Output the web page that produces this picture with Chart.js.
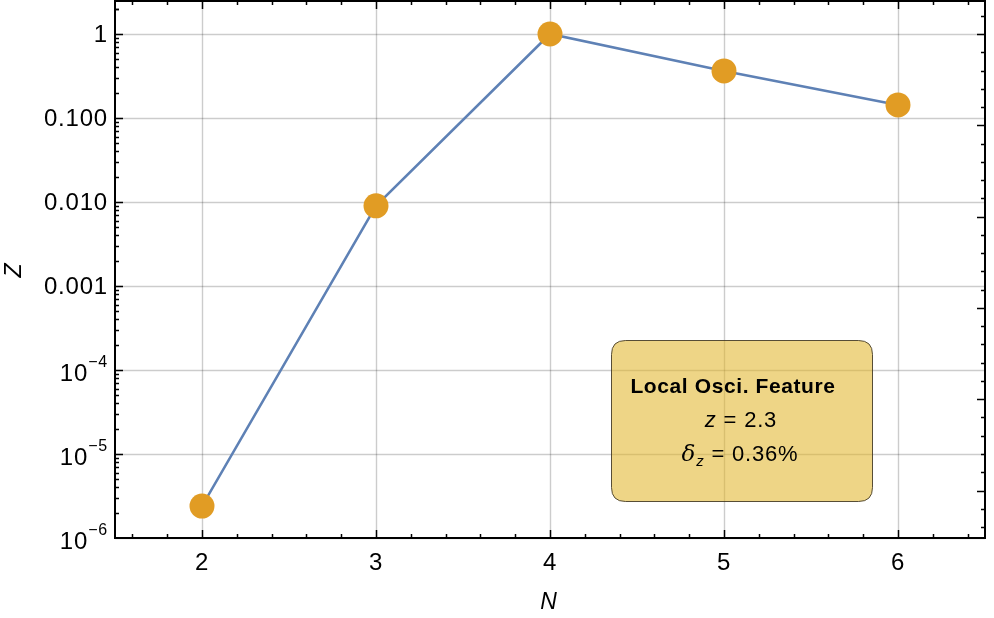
<!DOCTYPE html>
<html>
<head>
<meta charset="utf-8">
<script src="https://cdn.jsdelivr.net/npm/chart.js@4/dist/chart.umd.min.js"></script>
<style>
  html, body { margin: 0; padding: 0; background: #fff; }
  #wrap { width: 994px; height: 618px; position: relative; }
</style>
</head>
<body>
<div id="wrap"><canvas id="mycanvas"></canvas></div>
<script>
// data
var nValues = [2, 3, 4, 5, 6];
var zValues = [2.4e-6, 0.009, 1.0, 0.363, 0.143];

// axis ticks
var xTicks = [2, 3, 4, 5, 6];
var yTicks = [1e-6, 1e-5, 1e-4, 0.001, 0.01, 0.1, 1];
var yTickLabels = [['10', '\u22126'], ['10', '\u22125'], ['10', '\u22124'], '0.001', '0.010', '0.100', '1'];

// annotation text
var noteTitle = 'Local Osci. Feature';
var noteZ = '2.3';
var noteDelta = '0.36%';

var FONT = '"Liberation Sans", Arial, sans-serif';

var points = [];
for (var i = 0; i < nValues.length; i++) {
	points.push({ x: nValues[i], y: zValues[i] });
}

function roundRect(ctx, x, y, w, h, r) {
	ctx.beginPath();
	ctx.moveTo(x + r, y);
	ctx.lineTo(x + w - r, y);
	ctx.quadraticCurveTo(x + w, y, x + w, y + r);
	ctx.lineTo(x + w, y + h - r);
	ctx.quadraticCurveTo(x + w, y + h, x + w - r, y + h);
	ctx.lineTo(x + r, y + h);
	ctx.quadraticCurveTo(x, y + h, x, y + h - r);
	ctx.lineTo(x, y + r);
	ctx.quadraticCurveTo(x, y, x + r, y);
	ctx.closePath();
}

// draws text made of [text, font] pieces, centred on cx
function drawPieces(ctx, pieces, cx, y) {
	var total = 0;
	pieces.forEach(function(p){ ctx.font = p.font; total += ctx.measureText(p.t).width; });
	var x = cx - total / 2;
	pieces.forEach(function(p){
		ctx.font = p.font;
		ctx.fillText(p.t, x, y + (p.dy || 0));
		x += ctx.measureText(p.t).width;
	});
}

var framePlugin = {
	id: 'frame',
	beforeDatasetsDraw: function(chart) {
		var ctx = chart.ctx, a = chart.chartArea;
		var xs = chart.scales.x, ys = chart.scales.y;
		ctx.save();
		ctx.strokeStyle = 'rgba(0,0,0,0.2)';
		ctx.lineWidth = 1.4;
		xTicks.forEach(function(v){
			var px = Math.round(xs.getPixelForValue(v)) + 0.5;
			ctx.beginPath(); ctx.moveTo(px, a.top); ctx.lineTo(px, a.bottom); ctx.stroke();
		});
		yTicks.forEach(function(v){
			var py = Math.round(ys.getPixelForValue(v)) + 0.5;
			ctx.beginPath(); ctx.moveTo(a.left, py); ctx.lineTo(a.right, py); ctx.stroke();
		});

		// annotation box
		roundRect(ctx, 611.5, 340.5, 261, 161, 14);
		ctx.fillStyle = 'rgba(225,181,42,0.57)';
		ctx.fill();
		ctx.strokeStyle = 'rgba(60,50,30,0.85)';
		ctx.lineWidth = 1;
		ctx.stroke();

		ctx.fillStyle = '#000';
		ctx.textBaseline = 'middle';
		ctx.textAlign = 'left';
		ctx.letterSpacing = '0.6px';
		drawPieces(ctx, [{ t: noteTitle, font: 'bold 21px ' + FONT }], 733, 387);
		ctx.letterSpacing = '0.8px';
		drawPieces(ctx, [
			{ t: 'z', font: 'italic 22px ' + FONT },
			{ t: ' = ' + noteZ, font: '22px ' + FONT }
		], 741, 421);
		drawPieces(ctx, [
			{ t: '\u03b4', font: 'italic 23px "DejaVu Serif", serif' },
			{ t: 'z', font: 'italic 15px ' + FONT, dy: 7 },
			{ t: ' = ' + noteDelta, font: '22px ' + FONT }
		], 740, 455);
		ctx.letterSpacing = '0px';
		ctx.restore();
	},
	afterDatasetsDraw: function(chart) {
		var ctx = chart.ctx, a = chart.chartArea;
		var xs = chart.scales.x, ys = chart.scales.y;
		ctx.save();
		ctx.strokeStyle = '#000';
		ctx.lineWidth = 1.5;

		// x ticks, bottom and top
		for (var k = 8; k <= 32; k++) {
			var v = k / 5;
			var px = Math.round(xs.getPixelForValue(v)) + 0.5;
			if (px < a.left || px > a.right) continue;
			var len = (k % 5 === 0) ? 8 : 4;
			ctx.beginPath(); ctx.moveTo(px, a.bottom); ctx.lineTo(px, a.bottom - len); ctx.stroke();
			ctx.beginPath(); ctx.moveTo(px, a.top); ctx.lineTo(px, a.top + len); ctx.stroke();
		}

		// left log ticks
		for (var e = -6; e <= 0; e++) {
			for (var m = 1; m <= 9; m++) {
				var val = m * Math.pow(10, e);
				var py = Math.round(ys.getPixelForValue(val)) + 0.5;
				if (py < a.top || py > a.bottom) continue;
				var l = (m === 1) ? 8 : 4;
				ctx.beginPath(); ctx.moveTo(a.left, py); ctx.lineTo(a.left + l, py); ctx.stroke();
			}
		}
		// extra minor tick above 1
		var p2 = Math.round(ys.getPixelForValue(2)) + 0.5;
		if (p2 >= a.top) { ctx.beginPath(); ctx.moveTo(a.left, p2); ctx.lineTo(a.left + 4, p2); ctx.stroke(); }

		// right ticks (evenly spaced in log)
		for (var j = -35; j <= 3; j++) {
			var ex = j * 0.2174;
			var pr = Math.round(ys.getPixelForValue(Math.pow(10, ex))) + 0.5;
			if (pr < a.top + 2 || pr > a.bottom - 2) continue;
			var lr = (j % 5 === 0) ? 8 : 4;
			ctx.beginPath(); ctx.moveTo(a.right, pr); ctx.lineTo(a.right - lr, pr); ctx.stroke();
		}

		// frame
		ctx.lineWidth = 2;
		ctx.strokeRect(a.left, a.top, a.right - a.left, a.bottom - a.top);

		// labels
		ctx.fillStyle = '#000';
		ctx.textBaseline = 'middle';
		ctx.textAlign = 'center';
		ctx.letterSpacing = '0.8px';
		ctx.font = '24px ' + FONT;
		xTicks.forEach(function(v){
			ctx.fillText(String(v), xs.getPixelForValue(v), a.bottom + 25);
		});
		ctx.textAlign = 'right';
		yTicks.forEach(function(v, i){
			var py = ys.getPixelForValue(v);
			var lab = yTickLabels[i];
			if (typeof lab === 'string') {
				ctx.font = '24px ' + FONT;
				ctx.fillText(lab, 108, py + 1);
			} else {
				ctx.font = '16px ' + FONT;
				var ew = ctx.measureText(lab[1]).width;
				ctx.fillText(lab[1], 108, py - 7);
				ctx.font = '24px ' + FONT;
				ctx.fillText(lab[0], 108 - ew, py + 4);
			}
		});

		// axis titles
		ctx.textAlign = 'center';
		ctx.font = 'italic 23px ' + FONT;
		ctx.fillText('N', 549, 603);
		ctx.save();
		ctx.translate(15, 270);
		ctx.rotate(-Math.PI / 2);
		ctx.fillText('Z', 0, 0);
		ctx.restore();
		ctx.letterSpacing = '0px';
		ctx.restore();
	}
};

var ctx = document.getElementById('mycanvas');
var chart = new Chart(ctx, {
	type: 'line',
	data: {
		datasets: [{
			data: points,
			borderColor: '#5E81B5',
			borderWidth: 2.5,
			backgroundColor: '#E19C24',
			pointBackgroundColor: '#E19C24',
			pointBorderWidth: 0,
			pointRadius: 12.5,
			tension: 0
		}]
	},
	options: {
		responsive: true,
		maintainAspectRatio: false,
		animation: false,
		layout: { autoPadding: false, padding: { left: 115, right: 9, top: 1, bottom: 80 } },
		plugins: { legend: { display: false }, tooltip: { enabled: false } },
		scales: {
			x: { type: 'linear', min: 1.5, max: 6.5, display: false },
			y: { type: 'logarithmic', min: 1e-6, max: 2.47, display: false }
		}
	},
	plugins: [framePlugin]
});
</script>
</body>
</html>
